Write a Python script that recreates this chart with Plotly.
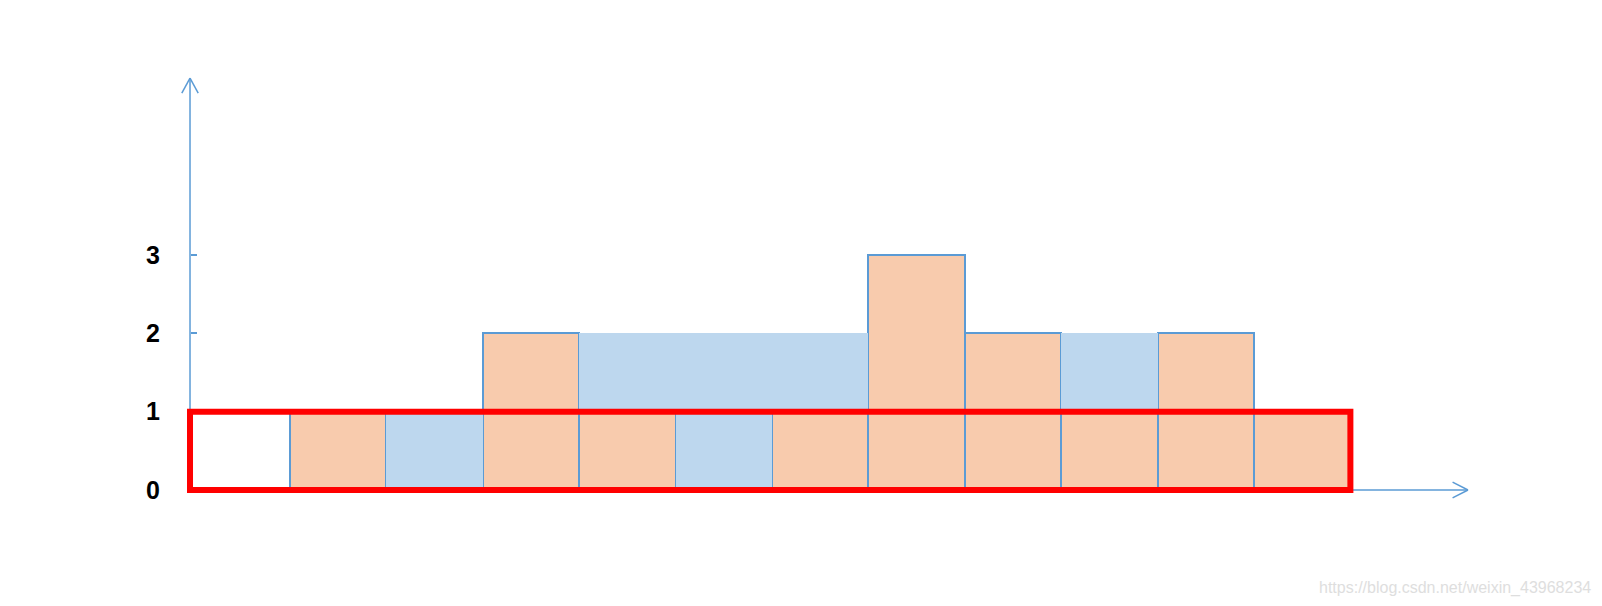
import plotly.graph_objects as go

# Elevation map and trapped water per column
columns = list(range(12))
ground = [0, 1, 0, 2, 1, 0, 1, 3, 2, 1, 2, 1]
water = [0, 0, 1, 0, 1, 2, 1, 0, 0, 1, 0, 0]
tick_values = [0, 1, 2, 3]
tick_labels = ["0", "1", "2", "3"]
highlight_level = 1
watermark = "https://blog.csdn.net/weixin_43968234"

ORANGE = "#F8CBAD"
WATER = "#BDD7EE"
BLUE = "#5B9BD5"
RED = "#FF0000"

W, H = 1586, 590  # page body has an 8px margin

xc = [c + 0.5 for c in columns]

fig = go.Figure()
fig.add_trace(go.Bar(
    x=xc, y=ground, width=1, marker=dict(color=ORANGE, line=dict(color=BLUE, width=2)),
    hoverinfo="skip", showlegend=False))
fig.add_trace(go.Bar(
    x=xc, y=water, width=1, marker=dict(color=WATER, line=dict(width=0)),
    hoverinfo="skip", showlegend=False))

x0 = -0.037
x_end = 13.22
y_end = 5.26
shapes = [
    dict(type="line", xref="x", yref="y", x0=x0, x1=x_end, y0=0, y1=0,
         line=dict(color=BLUE, width=1.5), layer="below"),
    dict(type="line", xref="x", yref="y", x0=x0, x1=x0, y0=0, y1=y_end,
         line=dict(color=BLUE, width=1.5), layer="below"),
    dict(type="line", xref="x", yref="y", x0=x_end - 0.16, x1=x_end, y0=0.10, y1=0,
         line=dict(color=BLUE, width=1.5)),
    dict(type="line", xref="x", yref="y", x0=x_end - 0.16, x1=x_end, y0=-0.10, y1=0,
         line=dict(color=BLUE, width=1.5)),
    dict(type="line", xref="x", yref="y", x0=x0 - 0.085, x1=x0, y0=y_end - 0.19, y1=y_end,
         line=dict(color=BLUE, width=1.5)),
    dict(type="line", xref="x", yref="y", x0=x0 + 0.085, x1=x0, y0=y_end - 0.19, y1=y_end,
         line=dict(color=BLUE, width=1.5)),
    dict(type="rect", xref="x", yref="y", x0=x0, x1=len(columns), y0=0, y1=highlight_level,
         line=dict(color=RED, width=6), layer="above"),
]

fig.update_layout(
    width=W, height=H,
    margin=dict(l=0, r=0, t=0, b=0),
    paper_bgcolor="white", plot_bgcolor="white",
    barmode="stack", bargap=0,
    shapes=shapes,
    xaxis=dict(range=[-1.925, 14.527], visible=False, fixedrange=True),
    yaxis=dict(range=[-1.379, 6.156], anchor="free", position=182 / W,
               tickvals=tick_values, ticktext=tick_labels,
               ticks="inside", ticklen=6, tickwidth=1.5, tickcolor=BLUE,
               showgrid=False, zeroline=False, showline=False,
               ticklabelstandoff=30,
               tickfont=dict(family="Liberation Sans, Arial, sans-serif", size=25,
                             color="black", weight="bold"),
               fixedrange=True),
    annotations=[dict(text=watermark, xref="paper", yref="paper", x=0.9994, y=0.017,
                      xanchor="right", yanchor="middle", showarrow=False,
                      font=dict(family="Liberation Sans, Arial, sans-serif", size=16, color="#DEDEDE"))],
)

fig.write_html("out.html")
